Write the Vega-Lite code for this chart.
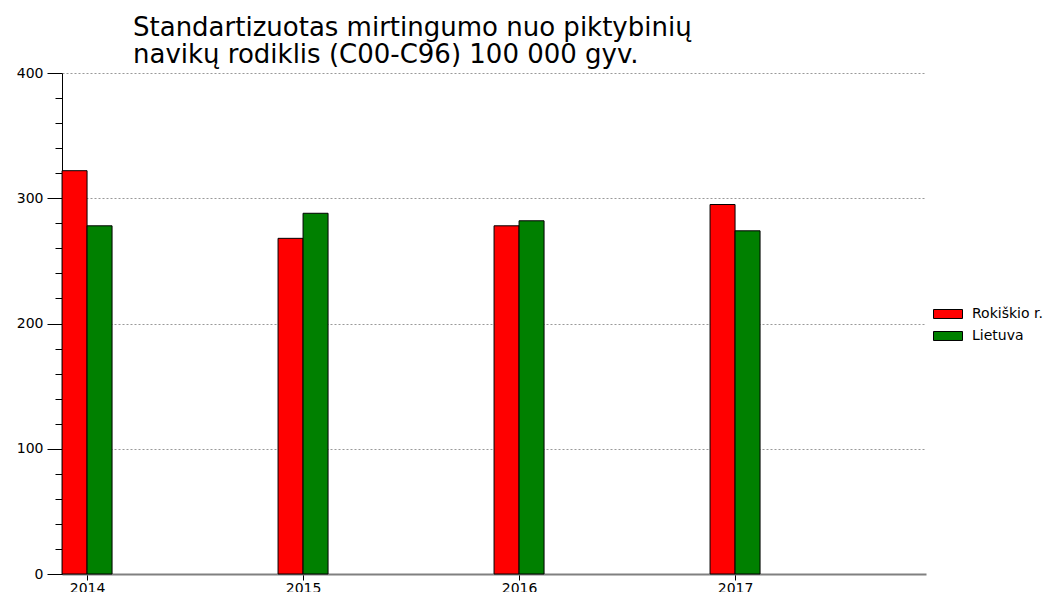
{
  "$schema": "https://vega.github.io/schema/vega-lite/v6.json",
  "width": 864,
  "height": 501,
  "autosize": "none",
  "padding": {"left": 62, "top": 73, "right": 132, "bottom": 18},
  "background": "white",
  "config": {"view": {"stroke": null}, "font": "DejaVu Sans"},
  "data": {"values": [
    {"year": 2014, "series": "Rokiškio r.", "value": 322},
    {"year": 2014, "series": "Lietuva", "value": 278},
    {"year": 2015, "series": "Rokiškio r.", "value": 268},
    {"year": 2015, "series": "Lietuva", "value": 288},
    {"year": 2016, "series": "Rokiškio r.", "value": 278},
    {"year": 2016, "series": "Lietuva", "value": 282},
    {"year": 2017, "series": "Rokiškio r.", "value": 295},
    {"year": 2017, "series": "Lietuva", "value": 274}
  ]},
  "title": {
    "text": ["Standartizuotas mirtingumo nuo piktybinių", "navikų rodiklis (C00-C96) 100 000 gyv."],
    "anchor": "start",
    "frame": "group",
    "dx": 71,
    "offset": -2,
    "font": "DejaVu Sans",
    "fontSize": 26,
    "fontWeight": "normal",
    "color": "black",
    "lineHeight": 27
  },
  "layer": [
    {
      "transform": [{"filter": "datum.series === 'Rokiškio r.'"}],
      "mark": {"type": "bar", "width": 25, "xOffset": -12.5, "stroke": "black", "strokeWidth": 1},
      "encoding": {
        "x": {"field": "year", "type": "quantitative",
          "scale": {"domain": [2013.884, 2017.884], "nice": false, "zero": false, "padding": 0},
          "axis": {"values": [2014, 2015, 2016, 2017], "format": "d", "title": null, "grid": false,
            "domainColor": "#808080", "domainWidth": 2, "tickColor": "black", "tickSize": 6,
            "labelFontSize": 14, "labelColor": "black", "labelPadding": 1, "labelFont": "DejaVu Sans"}},
        "y": {"field": "value", "type": "quantitative",
          "scale": {"domain": [0, 400], "nice": false},
          "axis": {"values": [0, 100, 200, 300, 400], "title": null, "orient": "left",
            "tickSize": 15, "tickColor": "black", "domainColor": "black", "domainWidth": 1,
            "grid": true, "gridColor": "#999999", "gridDash": [2, 2], "gridWidth": 1,
            "labelFontSize": 14, "labelPadding": 4, "labelColor": "black", "labelFont": "DejaVu Sans"}},
        "color": {"field": "series", "type": "nominal",
          "scale": {"domain": ["Rokiškio r.", "Lietuva"], "range": ["#ff0000", "#008000"]},
          "legend": {"orient": "none", "legendX": 871, "legendY": 226, "title": null,
            "symbolType": "M-1,-0.31H1V0.31H-1Z", "symbolSize": 841,
            "symbolStrokeColor": "black", "symbolStrokeWidth": 1,
            "labelFontSize": 14, "labelOffset": 9, "rowPadding": -8, "padding": 0,
            "labelColor": "black", "labelFont": "DejaVu Sans"}}
      }
    },
    {
      "transform": [{"filter": "datum.series === 'Lietuva'"}],
      "mark": {"type": "bar", "width": 25, "xOffset": 12.5, "stroke": "black", "strokeWidth": 1},
      "encoding": {
        "x": {"field": "year", "type": "quantitative"},
        "y": {"field": "value", "type": "quantitative",
          "axis": {"values": [20, 40, 60, 80, 120, 140, 160, 180, 220, 240, 260, 280, 320, 340, 360, 380],
            "title": null, "orient": "left", "labels": false, "domain": false, "grid": false,
            "tickSize": 7, "tickColor": "black"}},
        "color": {"field": "series", "type": "nominal"}
      }
    }
  ],
  "resolve": {"axis": {"y": "independent"}}
}
